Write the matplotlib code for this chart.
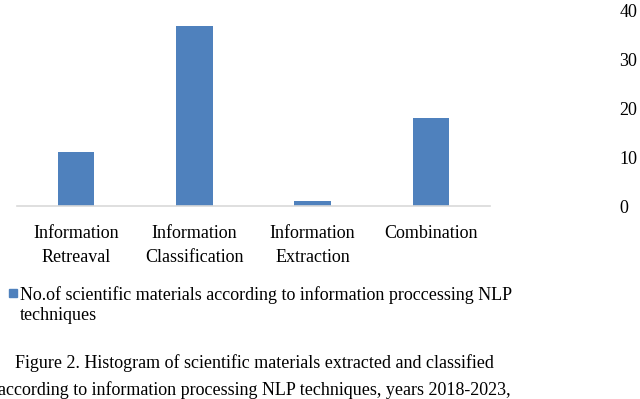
import matplotlib.pyplot as plt
from matplotlib.patches import Rectangle

# No. of scientific materials per NLP information processing technique
categories = ["Information\nRetreaval", "Information\nClassification",
              "Information\nExtraction", "Combination"]
counts = [11, 37, 1, 18]
yticks = [0, 10, 20, 30, 40]
legend_label = "No.of scientific materials according to information proccessing NLP\ntechniques"
caption = ["Figure 2. Histogram of scientific materials extracted and classified",
           "according to information processing NLP techniques, years 2018-2023,"]

plt.rcParams['font.family'] = ['Liberation Serif', 'DejaVu Serif']

fig = plt.figure(figsize=(6.4, 3.99), dpi=100)
ax = fig.add_axes([0.0266, 0.4837, 0.739, 0.489])

x = range(len(categories))
ax.bar(x, counts, width=0.31, color='#4F81BD')

ax.set_xlim(-0.5, len(categories) - 0.5)
ax.set_ylim(0, 40)
ax.set_xticks(list(x))
ax.set_xticklabels(categories, fontsize=13, linespacing=1.58)
ax.set_yticks(yticks)
ax.yaxis.tick_right()
ax.tick_params(axis='y', length=0, pad=93, labelsize=13)
ax.tick_params(axis='x', length=0, pad=13.6)
for lbl in ax.get_yticklabels():
    lbl.set_horizontalalignment('left')

for s in ['top', 'left', 'right']:
    ax.spines[s].set_visible(False)
ax.spines['bottom'].set_color('#D9D9D9')
ax.spines['bottom'].set_linewidth(1.2)

# legend (marker aligned with first line)
fig.add_artist(Rectangle((9 / 640, 1 - 297 / 399), 8 / 640, 8 / 399,
                         transform=fig.transFigure, color='#4F81BD'))
fig.text(20 / 640, 1 - 286 / 399, legend_label, fontsize=13,
         ha='left', va='top', linespacing=1.27)

fig.text(254 / 640, 1 - 363 / 399, caption[0], fontsize=13, ha='center', va='center')
fig.text(254 / 640, 1 - 390 / 399, caption[1], fontsize=13, ha='center', va='center')

fig.savefig('out.png', dpi=100)
